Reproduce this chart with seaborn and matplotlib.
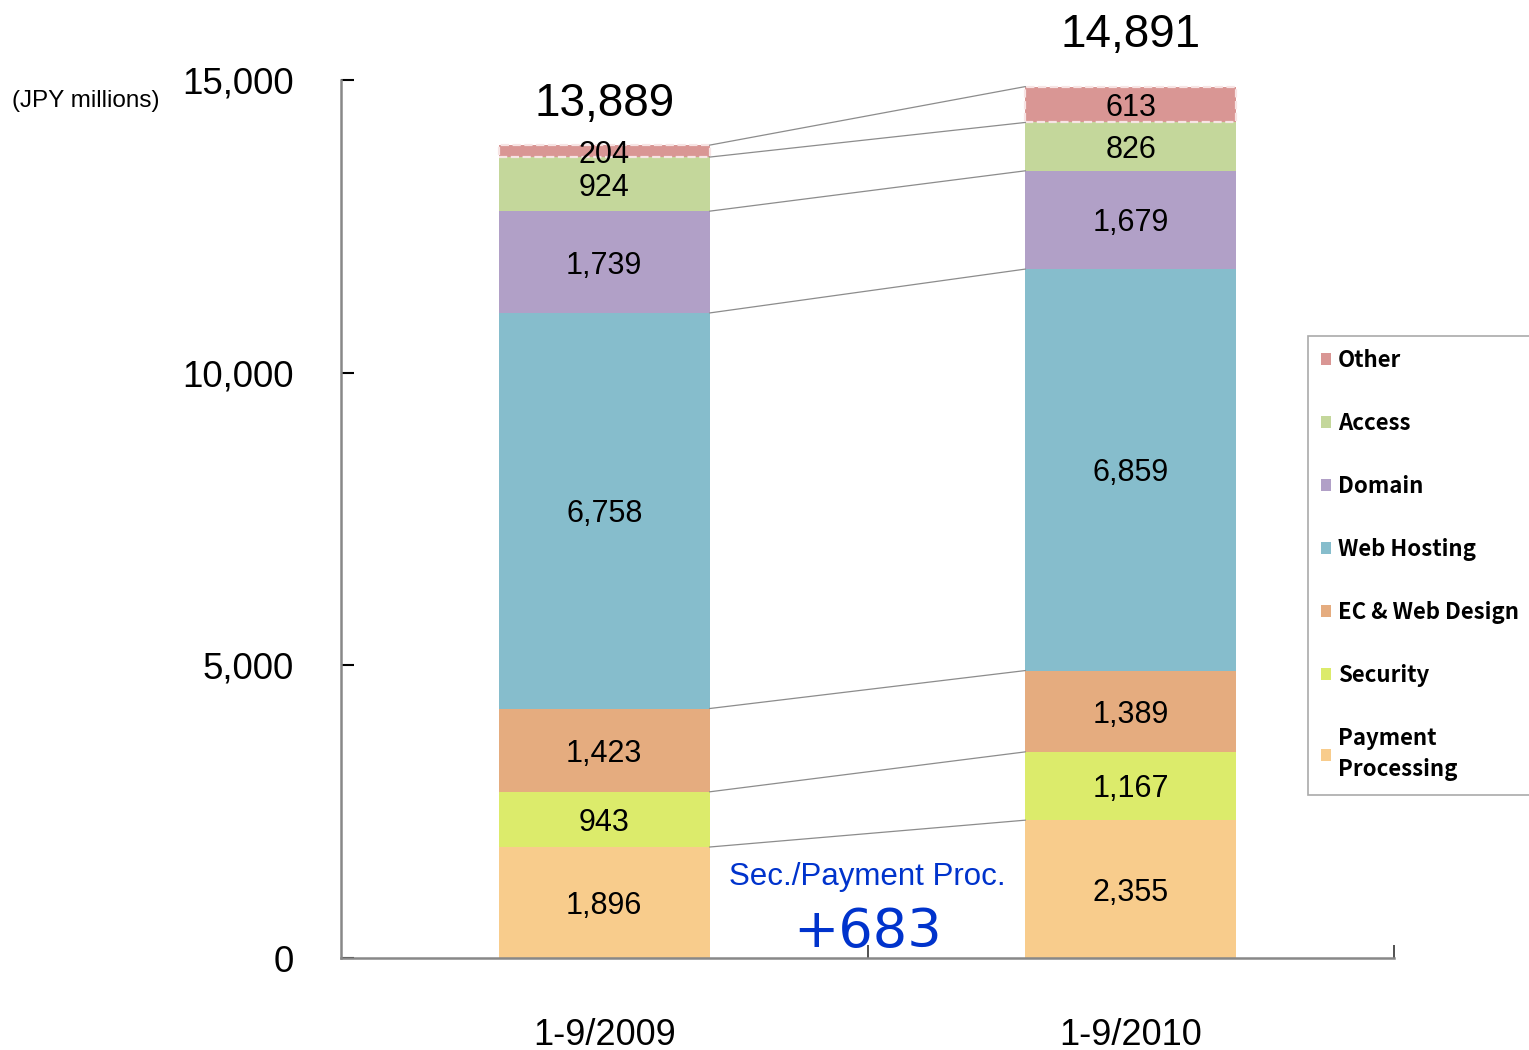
import numpy as np
import pandas as pd
import matplotlib
matplotlib.use("Agg")
import matplotlib.pyplot as plt
import seaborn as sns

periods = ["1-9/2009", "1-9/2010"]
series = ["Payment\nProcessing", "Security", "EC & Web Design", "Web Hosting", "Domain", "Access", "Other"]
payment = [1896, 2355]
security = [943, 1167]
ec_design = [1423, 1389]
hosting = [6758, 6859]
domain = [1739, 1679]
access = [924, 826]
other = [204, 613]
totals = [13889, 14891]
colors = ["#F8CC8C", "#DCEB6B", "#E5AC7F", "#86BDCC", "#B1A0C7", "#C4D79B", "#D99694"]
yticks = [0, 5000, 10000, 15000]

values = [payment, security, ec_design, hosting, domain, access, other]

sns.set_style("white")
plt.rcParams["font.family"] = ["Liberation Sans", "DejaVu Sans"]
plt.rcParams["text.color"] = "black"

fig = plt.figure(figsize=(15.29, 10.5), dpi=100)
ax = fig.add_axes([341 / 1529, 1 - 958 / 1050, (1394 - 341) / 1529, (958 - 80) / 1050])

bottoms = np.zeros(len(periods))
tops_list = []
for name, vals, col in zip(series, values, colors):
    vals = np.array(vals, dtype=float)
    kw = dict(linewidth=0)
    if name == "Other":
        kw = dict(edgecolor="#F7E4E4", linewidth=1.6, linestyle="--")
    sns.barplot(x=periods, y=vals, bottom=bottoms.copy(), color=col, width=0.4,
                ax=ax, label=name, saturation=1, **kw)
    for i, v in enumerate(vals):
        ax.text(i, bottoms[i] + v / 2, f"{int(v):,}", ha="center", va="center_baseline",
                fontsize=22, color="black", zorder=5)
    bottoms = bottoms + vals
    tops_list.append(bottoms.copy())

# connector lines
for tops in tops_list:
    ax.plot([0.2, 0.8], [tops[0], tops[1]], color="#8C8C8C", lw=0.9, zorder=1)

# totals
offs = [14, 21]
for i, t in enumerate(totals):
    ax.annotate(f"{t:,}", (i, bottoms[i]), xytext=(0, offs[i]), textcoords="offset points",
                ha="center", va="bottom", fontsize=33, color="black")

# delta annotation
delta = (payment[1] + security[1]) - (payment[0] + security[0])
ax.text(0.5, 1380, "Sec./Payment Proc.", ha="center", va="center", fontsize=22.5, color="#0033CC")
ax.text(0.5, 450, f"+{delta}", ha="center", va="center", fontsize=39, color="#0033CC",
        family=["DejaVu Sans"])

ax.set_ylim(0, 15000)
ax.set_xlim(-0.5, 1.5)
ax.set_yticks(yticks)
ax.set_yticklabels([f"{v:,}" for v in yticks])
ax.set_xticks([0, 1])
ax.set_xticklabels(periods)
ax.set_xticks([0.5, 1.5], minor=True)
ax.tick_params(axis="y", left=True, direction="in", length=9.5, width=1.5, color="black",
               pad=34, labelsize=26.5, labelcolor="black")
ax.tick_params(axis="x", which="major", bottom=True, length=0, pad=43, labelsize=26, labelcolor="black")
ax.tick_params(axis="x", which="minor", bottom=True, direction="in", length=9.5, width=1.2, color="#333333")
ax.set_xlabel("")
ax.set_ylabel("")
for s in ["top", "right"]:
    ax.spines[s].set_visible(False)
for s in ["left", "bottom"]:
    ax.spines[s].set_color("#888888")
    ax.spines[s].set_linewidth(1.8)

fig.text(12 / 1529, 1 - 101 / 1050, "(JPY millions)", ha="left", va="center", fontsize=17.5)

handles, labels = ax.get_legend_handles_labels()
leg = ax.legend(handles[::-1], labels[::-1], loc="upper left",
                bbox_to_anchor=(1308 / 1529, 1 - 336 / 1050), bbox_transform=fig.transFigure,
                frameon=True, fancybox=False, edgecolor="#AAAAAA", framealpha=1,
                prop={"family": ["Noto Sans CJK JP", "DejaVu Sans"], "weight": "bold", "size": 16},
                handlelength=0.45, handleheight=0.45, handletextpad=0.3, labelspacing=1.8,
                borderpad=0.6, borderaxespad=0)
for h in leg.legend_handles:
    h.set_linestyle("-")
    h.set_linewidth(0)
leg.get_texts()[-1].set_linespacing(1.45)
leg.get_frame().set_linewidth(1.2)

fig.savefig("out.png", dpi=100)
